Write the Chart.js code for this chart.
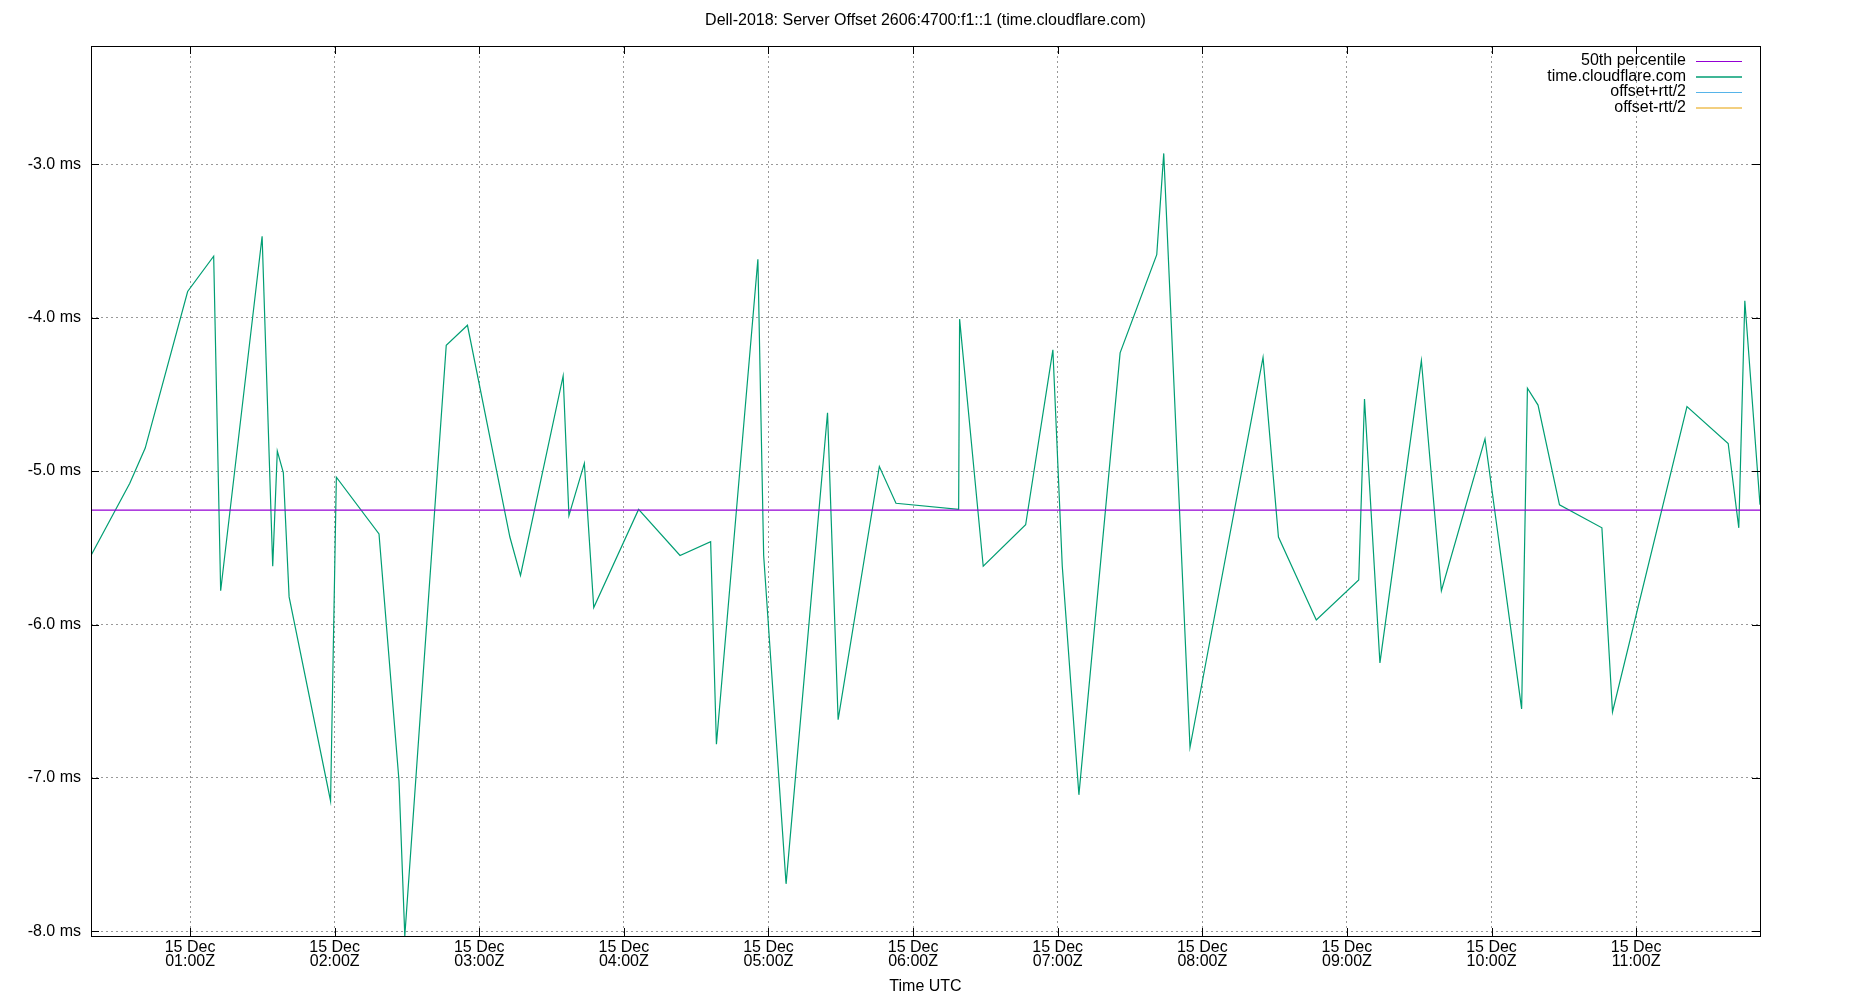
<!DOCTYPE html>
<html>
<head>
<meta charset="utf-8">
<script src="https://cdn.jsdelivr.net/npm/chart.js@4.4.1/dist/chart.umd.min.js"></script>
<style>
  html, body { margin: 0; padding: 0; background: #fff; }
  canvas { display: block; }
</style>
</head>
<body>
<canvas id="chart" width="1850" height="1000"></canvas>
<script>
// minutes after 00:00Z on 15 Dec
const sampleMinutes = [18.9, 35.0, 41.4, 59.0, 69.8, 72.7, 89.9, 94.3, 96.2, 98.7, 101.1, 118.3, 120.7, 138.4, 146.7, 149.1,
    166.3, 175.1, 192.7, 197.1, 214.8, 217.2, 223.6, 227.5, 246.1, 263.3, 276.0, 278.4, 295.6, 298.0, 307.3, 324.5,
    328.9, 346.0, 352.9, 378.9, 379.3, 389.1, 406.7, 418.0, 421.9, 428.8, 445.9, 461.1, 464.0, 474.9, 505.2, 511.6,
    527.3, 544.9, 547.3, 553.7, 570.9, 579.2, 597.3, 612.5, 614.9, 619.3, 628.2, 645.8, 650.2, 681.1, 698.2, 702.6,
    705.1, 711.4];
const offsetMs = [-5.55, -5.08, -4.85, -3.83, -3.6, -5.78, -3.47, -5.62, -4.87, -5.01, -5.82, -7.15, -5.04, -5.41, -7.02, -8.03,
    -4.18, -4.05, -5.43, -5.68, -4.38, -5.29, -4.95, -5.89, -5.25, -5.55, -5.46, -6.78, -3.62, -5.55, -7.69, -4.62,
    -6.62, -4.97, -5.21, -5.25, -4.01, -5.62, -5.35, -4.21, -5.62, -7.11, -4.23, -3.59, -2.93, -6.80, -4.26, -5.43,
    -5.97, -5.71, -4.53, -6.25, -4.28, -5.78, -4.79, -6.55, -4.46, -4.57, -5.22, -5.37, -6.57, -4.58, -4.82, -5.37,
    -3.89, -5.22];
const median = -5.254;
const xRange = [18.9, 711.4];
const yRange = [-8.03, -2.23];
const xTickMinutes = [60, 120, 180, 240, 300, 360, 420, 480, 540, 600, 660];
const xTickLabels = ['01:00Z', '02:00Z', '03:00Z', '04:00Z', '05:00Z', '06:00Z', '07:00Z', '08:00Z', '09:00Z', '10:00Z', '11:00Z'];
const yTicks = [-8, -7, -6, -5, -4, -3];

const legendItems = [
    { label: '50th percentile', color: '#9400d3' },
    { label: 'time.cloudflare.com', color: '#009e73' },
    { label: 'offset+rtt/2', color: '#56b4e9' },
    { label: 'offset-rtt/2', color: '#e69f00' }
];

const FONT = 'Liberation Sans, Arial, sans-serif';

// frame, title, x title and legend, gnuplot style
const decorations = {
    id: 'decorations',
    afterDraw(chart) {
        const ctx = chart.ctx;
        const a = chart.chartArea;
        ctx.save();
        ctx.strokeStyle = '#000';
        ctx.lineWidth = 1;
        ctx.strokeRect(a.left + 0.5, a.top + 0.5, a.right - a.left, a.bottom - a.top);

        // mirrored tick marks on top and right
        const xs = chart.scales.x, ys = chart.scales.y;
        ctx.beginPath();
        xTickMinutes.forEach(m => {
            const px = Math.round(xs.getPixelForValue(m)) + 0.5;
            ctx.moveTo(px, a.top); ctx.lineTo(px, a.top + 8);
            ctx.moveTo(px, a.bottom); ctx.lineTo(px, a.bottom - 8);
        });
        yTicks.forEach(v => {
            const py = Math.round(ys.getPixelForValue(v)) + 0.5;
            ctx.moveTo(a.left, py); ctx.lineTo(a.left + 8, py);
            ctx.moveTo(a.right, py); ctx.lineTo(a.right - 8, py);
        });
        ctx.stroke();

        ctx.fillStyle = '#000';
        ctx.font = '16px ' + FONT;
        ctx.textAlign = 'center';
        ctx.textBaseline = 'middle';
        ctx.fillText('Dell-2018: Server Offset 2606:4700:f1::1 (time.cloudflare.com)', (a.left + a.right) / 2, 21);
        ctx.fillText('Time UTC', (a.left + a.right) / 2, 987);

        ctx.textAlign = 'right';
        legendItems.forEach((item, i) => {
            const y = 61 + i * 15.5;
            ctx.fillStyle = '#000';
            ctx.fillText(item.label, a.right - 74, y);
            ctx.strokeStyle = item.color;
            ctx.lineWidth = i === 1 ? 1.5 : 1;
            ctx.beginPath();
            ctx.moveTo(a.right - 64, y + 0.5);
            ctx.lineTo(a.right - 18, y + 0.5);
            ctx.stroke();
        });
        ctx.restore();
    }
};

new Chart(document.getElementById('chart'), {
    type: 'line',
    data: {
        datasets: [
            {
                label: '50th percentile',
                data: [{ x: xRange[0], y: median }, { x: xRange[1], y: median }],
                borderColor: '#9400d3',
                borderWidth: 1.2,
                pointRadius: 0
            },
            {
                label: 'time.cloudflare.com',
                data: sampleMinutes.map((m, i) => ({ x: m, y: offsetMs[i] })),
                borderColor: '#009e73',
                borderWidth: 1.2,
                pointRadius: 0,
                tension: 0
            }
        ]
    },
    options: {
        responsive: false,
        animation: false,
        layout: { padding: { top: 46, right: 90, left: 0, bottom: 0 } },
        plugins: { legend: { display: false }, tooltip: { enabled: false } },
        scales: {
            x: {
                type: 'linear',
                min: xRange[0],
                max: xRange[1],
                afterBuildTicks: s => { s.ticks = xTickMinutes.map(v => ({ value: v })); },
                afterFit: s => { s.height = 64; },
                ticks: {
                    maxRotation: 0,
                    autoSkip: false,
                    color: '#000',
                    font: { family: FONT, size: 16, lineHeight: 0.9 },
                    padding: 4,
                    callback: (v) => ['15 Dec', xTickLabels[xTickMinutes.indexOf(v)]]
                },
                grid: { color: '#999', lineWidth: 1, drawTicks: false },
                border: { display: false, dash: [2, 3] }
            },
            y: {
                min: yRange[0],
                max: yRange[1],
                afterBuildTicks: s => { s.ticks = yTicks.map(v => ({ value: v })); },
                afterFit: s => { s.width = 91; },
                ticks: {
                    color: '#000',
                    font: { family: FONT, size: 16 },
                    padding: 10,
                    callback: v => v.toFixed(1) + ' ms'
                },
                grid: { color: '#999', lineWidth: 1, drawTicks: false },
                border: { display: false, dash: [2, 3] }
            }
        }
    },
    plugins: [decorations]
});
</script>
</body>
</html>
